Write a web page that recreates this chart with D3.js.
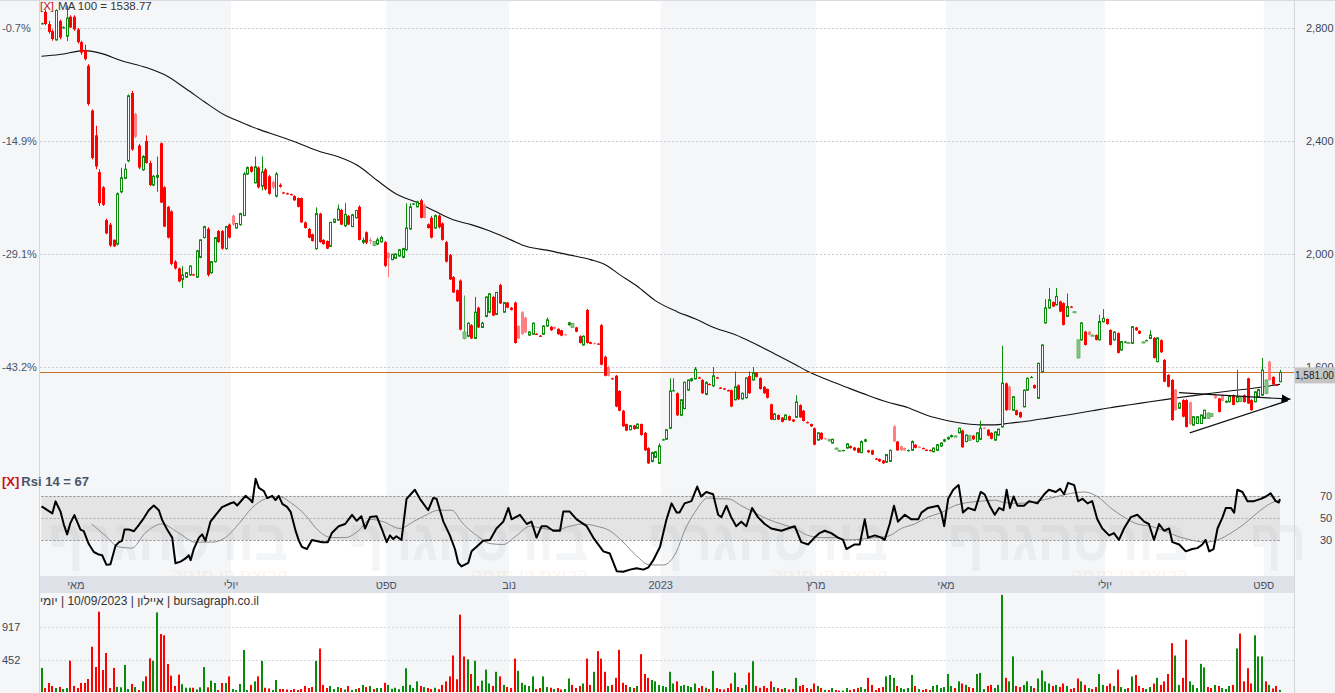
<!DOCTYPE html>
<html><head><meta charset="utf-8">
<script src="https://cdn.jsdelivr.net/npm/d3@7"></script>
<style>body{margin:0;background:#fff;}svg{display:block;}</style>
</head><body>
<svg id="c" width="1335" height="693"></svg>
<script>
// ---------------- DATA ----------------
const ohlc = [
[2815,2819,2813,2817],[2857,2865,2810,2814],[2814,2825,2780,2786],[2789,2795,2755,2761],[2758,2866,2755,2862],[2825,2830,2760,2766],[2800,2806,2798,2803],[2771,2880,2754,2835],[2840,2845,2800,2802],[2840,2845,2790,2795],
[2795,2800,2745,2750],[2750,2755,2705,2713],[2722,2741,2685,2690],[2666,2672,2525,2531],[2508,2512,2335,2340],[2420,2454,2300,2310],[2290,2300,2170,2180],[2236,2240,2170,2174],[2120,2125,2070,2073],[2104,2110,2025,2030],
[2050,2052,2025,2027],[2035,2218,2030,2213],[2220,2305,2215,2270],[2268,2320,2265,2300],[2330,2565,2325,2560],[2570,2578,2365,2370],[2496,2500,2410,2415],[2384,2390,2300,2306],[2298,2350,2295,2345],[2400,2420,2320,2322],
[2322,2330,2240,2244],[2244,2280,2240,2275],[2270,2345,2220,2280],[2392,2395,2180,2182],[2236,2240,2095,2097],[2167,2170,2055,2058],[2151,2155,1960,1965],[1973,1978,1945,1949],[1949,1952,1900,1903],[1910,1957,1880,1926],
[1918,1936,1915,1934],[1926,1960,1922,1957],[1928,1930,1924,1926],[1918,2015,1915,2011],[1988,2052,1985,2050],[2058,2100,2055,2097],[2089,2095,1920,1926],[1934,1975,1930,1973],[1973,2060,1970,2058],[2081,2085,2040,2042],
[2081,2085,2015,2019],[2019,2100,2015,2097],[2104,2108,2055,2058],[2136,2140,2100,2104],[2092,2110,2090,2108],[2104,2146,2100,2143],[2136,2290,2134,2283],[2283,2310,2280,2306],[2309,2312,2288,2291],[2252,2345,2250,2309],
[2306,2310,2232,2236],[2240,2345,2225,2290],[2299,2305,2225,2229],[2275,2280,2210,2213],[2255,2260,2230,2236],[2205,2290,2200,2283],[2245,2250,2235,2238],[2218,2220,2214,2216],[2215,2217,2211,2213],[2212,2214,2208,2210],
[2205,2208,2188,2190],[2198,2200,2165,2167],[2198,2200,2110,2112],[2112,2115,2090,2092],[2089,2092,2055,2058],[2070,2072,2044,2046],[2019,2165,2015,2143],[2143,2146,2040,2042],[2050,2052,2033,2035],[2046,2048,2017,2019],
[2027,2112,2025,2112],[2112,2125,2110,2123],[2120,2175,2118,2159],[2156,2160,2102,2104],[2100,2180,2095,2140],[2135,2138,2102,2104],[2097,2142,2095,2139],[2128,2156,2126,2154],[2167,2172,2048,2050],[2040,2058,2035,2050],
[2077,2080,2035,2040],[2050,2058,2035,2045],[2030,2046,2027,2044],[2035,2058,2032,2050],[2043,2065,2040,2058],[2042,2046,1954,1958],[2004,2006,1918,1985],[1980,2000,1978,1999],[1985,2002,1983,2000],[1993,2016,1990,2015],
[1988,2022,1985,2019],[2015,2179,2011,2092],[2089,2179,2085,2167],[2176,2180,2174,2179],[2167,2188,2165,2185],[2190,2195,2126,2128],[2174,2178,2126,2128],[2105,2108,2090,2092],[2128,2135,2055,2058],[2092,2140,2090,2136],
[2136,2140,2090,2095],[2108,2112,2048,2050],[2042,2046,1970,1973],[1996,2000,1908,1910],[1918,1922,1862,1864],[1872,1875,1830,1833],[1906,1910,1730,1732],[1701,1853,1698,1724],[1709,1758,1705,1755],[1748,1752,1699,1701],
[1701,1848,1699,1794],[1810,1814,1738,1740],[1740,1760,1738,1755],[1779,1850,1776,1848],[1794,1862,1790,1859],[1848,1852,1780,1782],[1786,1866,1784,1864],[1890,1895,1823,1825],[1794,1830,1792,1828],[1828,1830,1808,1810],
[1810,1812,1800,1802],[1828,1832,1683,1685],[1745,1748,1699,1701],[1794,1798,1714,1716],[1775,1778,1720,1722],[1713,1726,1710,1724],[1716,1758,1714,1755],[1718,1720,1714,1716],[1711,1713,1707,1709],[1716,1748,1714,1745],
[1745,1775,1743,1767],[1742,1745,1728,1730],[1742,1744,1733,1735],[1735,1737,1714,1716],[1730,1732,1709,1711],[1716,1718,1712,1714],[1748,1760,1746,1758],[1740,1756,1738,1754],[1740,1742,1723,1725],[1709,1712,1683,1685],
[1678,1712,1676,1709],[1802,1806,1683,1685],[1688,1690,1681,1682],[1685,1687,1681,1683],[1683,1684,1679,1681],[1748,1752,1606,1608],[1636,1640,1567,1569],[1600,1604,1567,1569],[1560,1562,1556,1558],[1569,1572,1458,1460],
[1515,1518,1443,1445],[1445,1448,1388,1390],[1398,1400,1373,1375],[1378,1395,1376,1392],[1393,1395,1378,1380],[1383,1400,1381,1398],[1398,1400,1357,1359],[1367,1370,1303,1305],[1313,1316,1257,1259],[1266,1300,1262,1297],
[1280,1302,1278,1300],[1259,1330,1257,1321],[1342,1346,1340,1344],[1344,1380,1342,1378],[1383,1560,1380,1515],[1516,1560,1514,1518],[1507,1510,1427,1429],[1429,1486,1426,1484],[1453,1548,1450,1546],[1518,1556,1516,1554],
[1550,1562,1548,1560],[1558,1600,1556,1592],[1563,1565,1559,1561],[1554,1557,1505,1507],[1503,1550,1500,1545],[1540,1542,1536,1538],[1533,1600,1530,1569],[1563,1565,1559,1561],[1527,1529,1523,1525],[1524,1526,1520,1522],
[1518,1520,1514,1516],[1518,1520,1458,1460],[1484,1584,1482,1530],[1535,1538,1483,1486],[1487,1509,1485,1507],[1491,1563,1489,1561],[1568,1584,1505,1507],[1554,1600,1552,1580],[1580,1582,1563,1565],[1561,1563,1520,1522],
[1530,1532,1505,1507],[1522,1524,1489,1491],[1468,1470,1412,1414],[1414,1436,1412,1434],[1430,1432,1412,1414],[1421,1423,1404,1406],[1414,1432,1412,1430],[1426,1428,1409,1411],[1414,1416,1405,1407],[1422,1500,1420,1476],
[1465,1468,1420,1422],[1445,1448,1407,1409],[1405,1407,1401,1403],[1398,1400,1388,1390],[1383,1386,1323,1325],[1341,1369,1339,1367],[1367,1369,1342,1344],[1348,1350,1344,1346],[1338,1346,1336,1344],[1331,1346,1329,1344],
[1312,1315,1310,1313],[1304,1307,1302,1305],[1304,1307,1302,1306],[1313,1330,1311,1328],[1320,1322,1311,1313],[1315,1317,1303,1305],[1313,1315,1295,1297],[1297,1340,1295,1336],[1336,1346,1334,1344],[1305,1307,1296,1298],
[1305,1307,1288,1290],[1276,1278,1272,1274],[1274,1276,1264,1266],[1269,1271,1257,1259],[1263,1292,1261,1290],[1266,1308,1264,1305],[1390,1395,1334,1336],[1336,1338,1303,1305],[1320,1322,1303,1305],[1313,1315,1303,1305],
[1303,1308,1301,1306],[1305,1340,1303,1336],[1325,1327,1312,1314],[1318,1320,1314,1316],[1313,1315,1309,1311],[1307,1309,1303,1305],[1306,1308,1302,1304],[1300,1315,1298,1313],[1305,1327,1303,1325],[1320,1333,1318,1331],
[1336,1346,1334,1344],[1344,1354,1342,1352],[1352,1361,1350,1359],[1355,1358,1353,1356],[1367,1385,1365,1383],[1375,1378,1314,1316],[1336,1361,1334,1359],[1340,1360,1338,1357],[1357,1359,1342,1344],[1336,1369,1334,1367],
[1344,1410,1342,1383],[1385,1387,1381,1383],[1378,1380,1355,1357],[1367,1369,1344,1346],[1341,1372,1339,1370],[1359,1382,1357,1380],[1388,1675,1385,1543],[1542,1545,1445,1447],[1531,1534,1446,1448],[1447,1497,1445,1495],
[1447,1449,1428,1430],[1440,1442,1420,1422],[1459,1520,1457,1518],[1518,1563,1516,1560],[1563,1568,1561,1565],[1536,1538,1523,1525],[1489,1615,1487,1613],[1583,1680,1581,1678],[1756,1840,1754,1809],[1809,1880,1807,1838],
[1830,1832,1812,1814],[1820,1880,1818,1850],[1832,1835,1794,1796],[1826,1829,1747,1749],[1779,1860,1777,1814],[1814,1816,1810,1812],[1795,1798,1793,1796],[1632,1698,1630,1696],[1696,1758,1694,1756],[1725,1728,1676,1678],
[1725,1728,1712,1714],[1712,1715,1710,1713],[1713,1715,1694,1696],[1696,1785,1694,1761],[1760,1805,1758,1772],[1770,1772,1750,1752],[1731,1734,1676,1678],[1696,1726,1694,1724],[1720,1723,1648,1650],[1660,1692,1658,1690],
[1689,1692,1687,1690],[1686,1689,1684,1687],[1684,1745,1682,1743],[1740,1742,1728,1730],[1728,1730,1716,1718],[1688,1691,1686,1689],[1694,1697,1692,1695],[1701,1730,1699,1713],[1703,1706,1630,1632],[1619,1705,1617,1703],
[1695,1698,1650,1652],[1625,1628,1546,1548],[1572,1575,1528,1530],[1554,1557,1410,1412],[1520,1522,1445,1447],[1454,1475,1452,1472],[1483,1486,1422,1424],[1483,1486,1386,1388],[1475,1478,1395,1398],[1394,1426,1392,1424],
[1400,1426,1398,1424],[1400,1432,1398,1430],[1418,1449,1416,1447],[1418,1439,1416,1437],[1425,1437,1423,1435],[1500,1503,1487,1489],[1489,1491,1439,1441],[1500,1503,1478,1480],[1474,1482,1472,1480],[1477,1500,1475,1498],
[1500,1503,1464,1466],[1477,1590,1475,1495],[1478,1495,1476,1493],[1500,1503,1474,1476],[1560,1562,1469,1471],[1483,1486,1445,1447],[1477,1514,1475,1512],[1494,1523,1492,1520],[1500,1632,1498,1589],[1506,1556,1504,1554],
[1619,1622,1552,1554],[1565,1567,1536,1538],[1537,1539,1534,1536],[1548,1590,1546,1581]
];
const volume = [
340,56,127,85,56,72,42,56,441,85, 56,127,127,183,639,352,1133,310,550,56,
340,72,66,382,42,113,70,28,150,220, 475,440,1122,818,800,395,230,85,245,110,
60,60,60,35,66,352,66,160,127,28, 127,127,220,42,28,113,592,28,100,150,
220,440,60,50,28,170,42,42,35,28, 42,28,42,85,56,70,440,614,100,56,
85,42,70,56,35,85,28,42,56,100, 70,85,42,56,56,130,100,45,60,40,
85,335,100,56,150,85,70,56,42,60, 40,100,150,220,515,180,1091,500,460,254,
440,85,160,316,120,85,285,220,100,70, 56,471,298,130,100,85,220,42,56,220,
70,60,42,56,35,42,190,100,56,85, 120,471,100,285,577,471,285,85,100,200,
595,130,100,70,56,85,533,254,200,170, 150,100,85,70,285,120,150,85,100,85,
70,120,56,85,60,42,298,56,42,35, 56,120,273,70,56,100,273,434,85,60,
85,56,150,70,56,42,56,35,42,200, 85,100,56,42,120,85,56,30,28,56,
28,20,20,56,28,42,56,70,42,200, 100,28,56,70,220,240,200,85,56,42,
56,240,85,42,28,42,28,85,100,56, 70,254,85,56,150,120,100,70,56,254,
270,42,85,100,56,100,1370,200,150,502, 85,70,100,150,85,56,190,304,150,120,
85,100,70,120,85,42,56,190,150,100, 56,42,70,254,100,85,120,85,316,70,
42,56,220,240,85,56,42,70,120,200, 100,150,254,688,515,100,200,738,150,100,
56,397,347,70,56,100,85,56,42,85, 100,614,825,150,335,120,800,502,502,150,
100,50,85,30
];
const rsiLine = [
[0,60.4],[1,58.4],[3,54.1],[3.9,65],[5.3,55.5],[6.2,43.9],[7.1,35.2],[8,45.4],[9.1,52.6],[10.8,39.6],[11.7,38.1],[13.1,26.5],[14.5,19.3],[15.9,17],[16.8,16.4],[18,7.7],[19.1,8.3],[20.5,25],[21.4,28],[22.3,29.4],[23,39.6],[24.2,39.6],[25.6,38.1],[27,43.9],[28.3,49.7],[29.7,57],[31.1,61.3],[32.5,57],[33.4,48.3],[34.8,39.6],[36.2,32.3],[37.1,9.1],[38.5,10.6],[39.9,13.5],[40.8,16.4],[41.3,12],[42.2,22.2],[43.6,32.3],[44.5,35.2],[45.4,29.4],[46.8,46.8],[48.2,52.6],[50,59.8],[52.4,63.3],[53.3,64.2],[54.2,61.3],[56.5,70],[57.9,66.2],[58.4,64.2],[59.3,85.4],[60.2,77.2],[61.6,74.3],[62.5,68],[63.9,70],[64.8,66.2],[65.7,70],[66.7,62.8],[68,60],[69,55.6],[70.4,38.1],[71.3,29.4],[72.1,24],[73.5,22],[74.9,30.2],[77.7,28.2],[79.3,28.2],[80.4,36.4],[82.3,42.6],[84.1,44.6],[86,52.9],[87.3,47.5],
[88.6,51.6],[89.6,40.5],[91,50.8],[92.8,51.6],[94.2,40.5],[95.6,28.2],[96.5,34.3],[97.4,31],[98.3,33.5],[99.7,30.2],[101.1,67.3],[103.4,75.5],[104.8,67.3],[107.1,57],[108.5,68.1],[109.4,67.3],[111.3,46.7],[113.1,34.3],[114.5,22],[115.4,9.6],[116.3,6.3],[118.2,9.6],[119.1,19.9],[120.5,24],[122.3,29.4],[124.2,30.2],[126,40.5],[127.9,46.7],[129.3,59.1],[130.2,48.8],[132.5,52.9],[134.4,44.6],[135.7,46.7],[137.1,32.3],[138.5,42.6],[139.9,42.6],[141.7,38.5],[143.6,38.5],[144.5,55.8],[146.3,55.8],[148.2,48.8],[151,42.6],[152.8,32.3],[155.6,19.9],[157.4,17.9],[159.3,2],[161.1,1.5],[163,3.4],[164.8,4.7],[166.7,3.4],[168.1,5.5],[169.4,11.7],[171.3,24],[173.1,48.8],[174.5,63.2],[175.9,54.9],
[176.7,54.9],[178.1,63.2],[180,65.2],[181.6,78.4],[182.7,69.4],[184.1,73.5],[186,71.4],[187.4,52.9],[188.3,50.8],[189.7,61.1],[191,50.8],[192.4,42.6],[193.8,46.7],[195.2,42.6],[196.8,59.1],[198.4,50.8],[200.3,44.6],[202.1,40.5],[204.9,38.5],[206.7,40.5],[208.6,42.6],[210.4,28.2],[212.3,26.1],[214.1,32.3],[215.5,36.4],[216.9,38.5],[218.7,36.4],[220.6,32.3],[222,30.2],[222.9,22],[225.2,26.1],[226.6,26.1],[228,48.8],[228.9,32.3],[230.8,34.3],[232.6,32.3],[233.5,30.2],[234.9,44.6],[236.1,61.1],[237.2,46.7],[239.1,52.9],[240.9,48.8],[242.8,48.8],[243.7,54.9],[245.5,59.1],[248.3,61.1],[249.2,54.9],[250,42.6],[251.1,67.3],[252.5,75.5],[254,79.7],[255.2,54.9],[256.6,59.1],[258.5,57],[260.1,73.5],[261.2,71.4],[262.6,61.1],[264,52.9],
[265.2,59.1],[266.4,57],[267.3,75.5],[268.2,59.1],[269.2,69.4],[270.3,61.1],[272.1,61.1],[273.5,65.2],[275.8,63.2],[277.7,71.4],[279,75.5],[280.9,73.5],[282.1,76.4],[283.2,71.4],[284.3,81.7],[286,79.7],[287.1,65.2],[288.3,67.3],[289.7,63.2],[291,65.2],[292.4,48.8],[293.8,40.5],[295.7,34.3],[297,36.4],[298.4,30.2],[299.8,40.5],[301.7,50.8],[303.5,52.9],[305.4,46.7],[306.7,44.6],[308.1,30.2],[309.5,44.6],[310.9,38.5],[312.3,40.5],[313.2,28.2],[315.1,26.1],[316.9,19.9],[318.7,22],[320.1,22.8],[321.5,26.1],[322.4,30.2],[323.4,19.9],[324.6,22],[325.7,40.5],[327.1,50.8],[328,59.1],[329.4,59.1],[330.3,54.9],[331.2,75.5],[332.6,73.5],[334,65.2],[335.8,65.2],[337.7,67.3],[339.1,69.4],[340.4,72.2],[341.8,65.2],[342.7,64],[343,67]
];
const rsiSignal = [
[13.9,44.6],[17.6,34.3],[21.3,24],[25,22.8],[28.7,36.4],[33.3,44.6],[38,36.4],[42.6,28.2],[47.2,28.2],[50.9,32.3],[54.6,44.6],[58.3,59.1],[62,67.3],[65.7,69.4],[69.3,63.2],[73,52.9],[76.7,38.5],[80.4,32.3],[84.1,32.3],[87.8,38.5],[91,48.8],[94.6,46.7],[99.3,40.5],[103,46.7],[106.6,52.9],[109.9,57],[113.6,57],[116.8,44.6],[120.5,34.3],[124.2,26.9],[127.9,26.1],[131.6,34.3],[135.3,42.6],[139,40.5],[142.7,39.3],[146.4,42.6],[150.1,44.6],[153.7,42.6],[157.4,38.5],[161.1,28.2],[164.8,15.8],[168.5,7.6],[172.2,7.6],[175.9,20],[178.1,38.5],[180.9,54.9],[184.6,68.1],[187.4,67.3],[190.1,67.3],[193.8,61.1],[197.5,54.9],[201.2,48.8],[204.9,44.6],[208.6,40.5],[212.3,34.3],[216,32.3],[219.7,32.3],[223.4,30.2],[227.1,31],[230.8,32.3],[234.4,33.5],[238.1,40.5],[241.8,44.6],[245.5,50.8],[249.2,54.9],[252.9,61.1],[256.6,64],[260.3,65.2],[264,66.1],[266.6,64],[270.3,63.2],[274,64],[277.7,66.5],[281.3,69.4],[285,72.2],[288.7,73.5],[292.4,69.4],[296.1,59.1],[299.8,50.8],[303.5,44.6],[307.2,42.6],[310.9,38.5],[314.6,33.5],[318.3,30.2],[322,28.2],[325.7,30.2],[329.4,36.4],[333.1,44.6],[336.8,54.9],[340.4,63.2],[343,66.5]
];
const ma100 = [
[0,2700],[5,2706],[12,2720],[16,2712],[22,2685],[29,2660],[34,2635],[40,2585],[45,2540],[51,2490],[55,2468],[60,2442],[66,2416],[71,2393],[77,2363],[82,2345],[88,2310],[93,2260],[98,2214],[104,2182],[109,2151],[114,2121],[119,2104],[124,2082],[130,2050],[134,2028],[141,2011],[146,1997],[152,1980],[156,1963],[160,1928],[165,1886],[170,1835],[176,1796],[181,1771],[186,1741],[192,1715],[197,1686],[203,1647],[209,1607],[212,1586],[218,1553],[223,1528],[229,1499],[234,1477],[240,1456],[245,1430],[251,1410],[256,1399],[260,1395],[264,1395],[268,1401],[274,1410],[279,1420],[285,1432],[291,1445],[296,1456],[302,1467],[307,1477],[313,1488],[318,1497],[324,1507],[329,1515],[335,1524],[340,1533],[343,1538.77]
];
const trendLines = [[315.0,1509,345.9,1486],[318.0,1367,345.2,1481]];
const priceTicks = [2800,2400,2000,1600];
const pctLabels = ["-0.7%","-14.9%","-29.1%","-43.2%"];
const rsiTicks = [70,50,30];
const volTicks = [917,452];
const monthLabels = ["מאי","יולי","ספט","נוב","2023","מרץ","מאי","יולי","ספט"];
const monthStartIdx = [10,53,96,130,172,215,251,295,339];
const lastPrice = 1581;
const maLabel = "MA 100 = 1538.77";
const rsiLabel = "Rsi 14 = 67";
const infoText = "יומי\u200E | 10/09/2023 | איילון\u200E | bursagraph.co.il";
const wmMain = "בורסהגרף", wmSub = "קבוצת קו מנחה", wmTail = "רף";

// ---------------- CHART ----------------
const W = 1335, H = 693, L = 40, R = 1294;
const FONT = "Arial, 'Liberation Sans', sans-serif";
const svg = d3.select("#c").attr("font-family", FONT);
const N = ohlc.length;
const x = d3.scaleLinear().domain([0, N - 1]).range([41.5, 1280]);
const yP = d3.scaleLinear().domain([1600, 2800]).range([367, 28]);
const yR = d3.scaleLinear().domain([0, 100]).range([573.4, 462.6]);
const yV = d3.scaleLinear().domain([0, 917]).range([692, 627]);

const LIGHT = "#f5f6f8";
svg.append("rect").attr("width", W).attr("height", H).attr("fill", LIGHT);

// alternating period bands
const bounds = [L, ...monthStartIdx.slice(1).map(i => x(i - 0.5)), R];
for (let k = 1; k < bounds.length - 1; k += 2) {
  svg.append("rect").attr("x", bounds[k]).attr("y", 1).attr("width", bounds[k + 1] - bounds[k]).attr("height", H - 1).attr("fill", "#ffffff");
}
svg.append("line").attr("x1", 0).attr("x2", W).attr("y1", 0.5).attr("y2", 0.5).attr("stroke", "#d9dde3");
svg.append("line").attr("x1", L - 0.5).attr("x2", L - 0.5).attr("y1", 0).attr("y2", H).attr("stroke", "#d3d8de");
svg.append("line").attr("x1", R + 0.5).attr("x2", R + 0.5).attr("y1", 0).attr("y2", H).attr("stroke", "#d3d8de");

// grid lines
svg.append("g").selectAll("line").data(priceTicks).join("line")
  .attr("x1", L).attr("x2", R).attr("y1", d => Math.round(yP(d)) + 0.5).attr("y2", d => Math.round(yP(d)) + 0.5)
  .attr("stroke", "#c9cdd3").attr("stroke-dasharray", "2,2");
svg.append("g").selectAll("line").data(volTicks).join("line")
  .attr("x1", L).attr("x2", R).attr("y1", d => Math.round(yV(d)) + 0.5).attr("y2", d => Math.round(yV(d)) + 0.5)
  .attr("stroke", "#d2d6db").attr("stroke-dasharray", "2,2");

// RSI band
svg.append("rect").attr("x", x(0)).attr("width", x(N - 1) - x(0))
  .attr("y", yR(70)).attr("height", yR(30) - yR(70)).attr("fill", "#e4e4e4");
// faint watermark
const wm = svg.append("g");
for (let k = 0; k < 4; k++) {
  const xe = 288 + 300 * k;
  wm.append("text").attr("x", xe).attr("y", 560).attr("text-anchor", "end")
    .attr("font-size", 58).attr("font-weight", "bold").attr("fill", "#8e9db3").attr("fill-opacity", 0.1)
    .attr("textLength", 240).attr("lengthAdjust", "spacingAndGlyphs").text(wmMain);
  wm.append("text").attr("x", xe).attr("y", 579).attr("text-anchor", "end")
    .attr("font-size", 13).attr("fill", "#f0a050").attr("fill-opacity", 0.14)
    .attr("textLength", 117).attr("lengthAdjust", "spacingAndGlyphs").text(wmSub);
}
wm.append("text").attr("x", 1250).attr("y", 560)
  .attr("font-size", 58).attr("font-weight", "bold").attr("fill", "#8e9db3").attr("fill-opacity", 0.1)
  .attr("textLength", 56).attr("lengthAdjust", "spacingAndGlyphs").text(wmTail);

svg.append("g").selectAll("line").data(rsiTicks).join("line")
  .attr("x1", x(0)).attr("x2", x(N - 1)).attr("y1", d => Math.round(yR(d)) + 0.5).attr("y2", d => Math.round(yR(d)) + 0.5)
  .attr("stroke", d => d === 50 ? "#a8a8a8" : "#8a8a8a").attr("stroke-dasharray", "2,2");

// date strip
svg.append("rect").attr("x", L).attr("y", 576).attr("width", R - L).attr("height", 17).attr("fill", "#dee2e8");
svg.append("g").selectAll("text").data(monthLabels).join("text")
  .attr("x", (d, i) => x(monthStartIdx[i] - 0.5)).attr("y", 589).attr("text-anchor", "middle")
  .attr("font-size", 11).attr("fill", "#4a5568").text(d => d);

// MA line
svg.append("path").datum(ma100)
  .attr("d", d3.line().x(d => x(d[0])).y(d => yP(d[1])).curve(d3.curveMonotoneX))
  .attr("fill", "none").attr("stroke", "#111").attr("stroke-width", 1.1);

// last price line
svg.append("line").attr("x1", L).attr("x2", R).attr("y1", Math.round(yP(lastPrice)) + 0.5).attr("y2", Math.round(yP(lastPrice)) + 0.5)
  .attr("stroke", "#c8702a").attr("stroke-width", 1);

// candles
const GREEN = "#0a8a0a", PALEG = "#86c986", RED = "#ff0000", PINK = "#ff8080";
const cdata = ohlc.map((d, i) => {
  const [o, h, l, c] = d;
  const prev = i > 0 ? ohlc[i - 1][3] : o;
  const up = c >= o, upPrev = c >= prev;
  const cx = Math.round(x(i)) + 0.5;
  let col, fill, hollow;
  if (up) { hollow = upPrev; col = upPrev ? GREEN : "#4fa84f"; fill = upPrev ? "#ffffff" : PALEG; }
  else { hollow = false; col = upPrev ? PINK : RED; fill = col; }
  const yt = yP(Math.max(o, c)), yb = yP(Math.min(o, c));
  return { i, o, h, l, c, cx, col, fill, hollow, yt, yb, upPrev };
});
const cg = svg.append("g");
cg.selectAll("line").data(cdata).join("line")
  .attr("x1", d => d.cx).attr("x2", d => d.cx).attr("y1", d => yP(d.h)).attr("y2", d => yP(d.l))
  .attr("stroke", d => d.col).attr("stroke-width", 1);
cg.selectAll("rect").data(cdata).join("rect")
  .each(function (d) {
    const s = d3.select(this);
    const hgt = d.yb - d.yt;
    if (d.hollow && hgt >= 3) {
      s.attr("x", d.cx - 1).attr("width", 2).attr("y", d.yt).attr("height", hgt)
        .attr("fill", d.fill).attr("stroke", d.col).attr("stroke-width", 1);
    } else {
      s.attr("x", d.cx - 1.5).attr("width", 3).attr("y", d.yt).attr("height", Math.max(1.2, hgt))
        .attr("fill", d.hollow ? d.col : d.fill)
        .attr("stroke", d.fill === PALEG ? "#5aae5a" : "none").attr("stroke-width", d.fill === PALEG ? 0.8 : 0);
    }
  });

// trend lines with arrow
const defs = svg.append("defs");
defs.append("marker").attr("id", "arr").attr("viewBox", "0 0 10 10").attr("refX", 10).attr("refY", 5)
  .attr("markerWidth", 9).attr("markerHeight", 11).attr("markerUnits", "userSpaceOnUse").attr("orient", "auto")
  .append("path").attr("d", "M0,0 L10,5 L0,10 Z").attr("fill", "#000");
svg.append("g").selectAll("line").data(trendLines).join("line")
  .attr("x1", d => x(d[0])).attr("y1", d => yP(d[1])).attr("x2", d => x(d[2])).attr("y2", d => yP(d[3]))
  .attr("stroke", "#111").attr("stroke-width", 1.2)
  .attr("marker-end", (d, i) => i === 0 ? "url(#arr)" : null);

// volume bars
svg.append("g").selectAll("rect").data(volume).join("rect")
  .attr("x", (d, i) => Math.round(x(i)) - 1).attr("width", 2)
  .attr("y", d => yV(d)).attr("height", d => yV(0) - yV(d))
  .attr("fill", (d, i) => cdata[i].upPrev ? "#0a8a0a" : "#ff0000");

// RSI lines
svg.append("path").datum(rsiSignal)
  .attr("d", d3.line().x(d => x(d[0])).y(d => yR(d[1])).curve(d3.curveMonotoneX))
  .attr("fill", "none").attr("stroke", "#8c8c8c").attr("stroke-width", 1);
svg.append("path").datum(rsiLine)
  .attr("d", d3.line().x(d => x(d[0])).y(d => yR(d[1])))
  .attr("fill", "none").attr("stroke", "#000").attr("stroke-width", 2).attr("stroke-linejoin", "round");

// axes
const styleAxis = (g, size, color) => {
  g.select(".domain").remove();
  g.attr("font-family", FONT).attr("font-size", size);
  g.selectAll("text").attr("fill", color);
};
svg.append("g").attr("transform", "translate(1306,0)")
  .call(d3.axisRight(yP).tickValues(priceTicks).tickSize(0).tickPadding(0).tickFormat(d3.format(",")))
  .call(g => styleAxis(g, 11, "#3b4656"));
svg.append("g").attr("transform", "translate(0,0)")
  .call(d3.axisRight(yP).tickValues(priceTicks).tickSize(0).tickPadding(2).tickFormat((d, i) => pctLabels[i]))
  .call(g => styleAxis(g, 11, "#4a5568"));
svg.append("g").attr("transform", "translate(1318,0)")
  .call(d3.axisRight(yR).tickValues(rsiTicks).tickSize(0).tickPadding(2))
  .call(g => styleAxis(g, 11, "#3b4656"));
svg.append("g").attr("transform", "translate(0,0)")
  .call(d3.axisRight(yV).tickValues(volTicks).tickSize(0).tickPadding(2))
  .call(g => styleAxis(g, 11, "#3b4656"));

// last price box
const yl = yP(lastPrice);
svg.append("rect").attr("x", R + 1).attr("y", yl - 5).attr("width", W - R - 1).attr("height", 16).attr("fill", "#c4c4c4");
svg.append("text").attr("x", R + 1).attr("y", yl + 7).attr("font-size", 10).attr("fill", "#1a1a1a")
  .text(d3.format(",.2f")(lastPrice));

// titles
const t1 = svg.append("text").attr("x", 40).attr("y", 10).attr("font-size", 11.5);
t1.append("tspan").attr("fill", "#c0141a").text("[X]");
t1.append("tspan").attr("fill", "#333").attr("dx", 4).text(maLabel);
const t2 = svg.append("text").attr("x", 2).attr("y", 486).attr("font-size", 13).attr("font-weight", "bold");
t2.append("tspan").attr("fill", "#cc1010").text("[X]");
t2.append("tspan").attr("fill", "#4a5568").attr("dx", 2).text(rsiLabel);
svg.append("text").attr("x", 40).attr("y", 605).attr("font-size", 12).attr("fill", "#333").text(infoText);
</script>
</body></html>
